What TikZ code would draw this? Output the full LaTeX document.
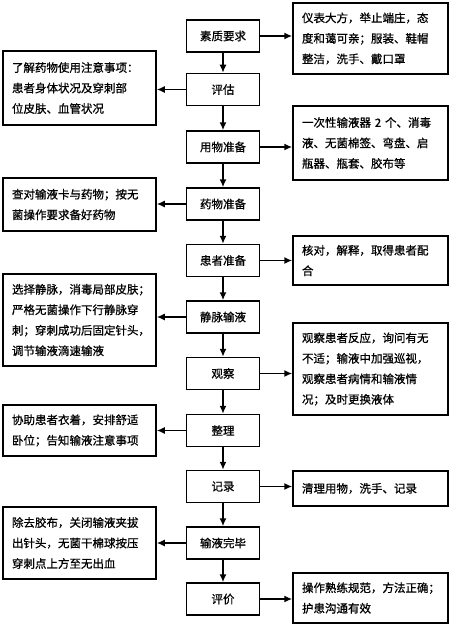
\documentclass[tikz,border=0pt]{standalone}
\usepackage{fontspec}
\setmainfont{Noto Sans CJK SC}[FakeBold=0.8]
\usetikzlibrary{arrows.meta}
\begin{document}
\begin{tikzpicture}[x=1pt,y=-1pt]

      \tikzstyle{StepBlock} = [
      rectangle,
      minimum width=73pt,
      minimum height=32pt,
      inner sep=0pt,
      text centered,
      draw=black,
      line width=1.5pt,
      fill=white,
      font=\fontsize{11.5}{14}\selectfont
      ]

      \tikzstyle{NoteBlock} = [
      rectangle,
      align=left,
      inner xsep=9pt,
      inner ysep=0pt,
      draw=black,
      line width=1.5pt,
      fill=white,
      font=\fontsize{11.5}{20.5}\selectfont
      ]

      \tikzstyle{FlowArrow} = [-{Latex[length=8pt,width=7pt]}, line width=1.5pt]

      \useasboundingbox (0,0) rectangle (474,626);

      \node (SuZhi) [StepBlock] at (223,36) {素质要求};
      \node (PingGu) [StepBlock] at (223,89.5) {评估};
      \node (YongWu) [StepBlock] at (223,147) {用物准备};
      \node (YaoWu) [StepBlock] at (223,204) {药物准备};
      \node (HuanZhe) [StepBlock] at (223,260.5) {患者准备};
      \node (JingMai) [StepBlock] at (223,317) {静脉输液};
      \node (GuanCha) [StepBlock] at (223,373.5) {观察};
      \node (ZhengLi) [StepBlock] at (223,430.5) {整理};
      \node (JiLu) [StepBlock] at (223,486.5) {记录};
      \node (WanBi) [StepBlock] at (223,543) {输液完毕};
      \node (PingJia) [StepBlock] at (223,599) {评价};

      \node (SuZhiNote) [NoteBlock, text width=137pt, minimum height=71pt] at (370.5,38.5) {
        仪表大方，举止端庄，态\\
        度和蔼可亲；服装、鞋帽\\
        整洁，洗手、戴口罩
      };

      \node (PingGuNote) [NoteBlock, text width=135pt, minimum height=74pt] at (79.5,88) {
        了解药物使用注意事项：\\
        患者身体状况及穿刺部\\
        位皮肤、血管状况
      };

      \node (YongWuNote) [NoteBlock, text width=137pt, minimum height=74pt] at (370.5,143) {
        一次性输液器 2 个、消毒\\
        液、无菌棉签、弯盘、启\\
        瓶器、瓶套、胶布等
      };

      \node (YaoWuNote) [NoteBlock, text width=135pt, minimum height=53pt] at (79.5,204.5) {
        查对输液卡与药物；按无\\
        菌操作要求备好药物
      };

      \node (HuanZheNote) [NoteBlock, text width=137pt, minimum height=49pt] at (370.5,260.5) {
        核对，解释，取得患者配\\
        合
      };

      \node (JingMaiNote) [NoteBlock, text width=135pt, minimum height=92pt] at (79.5,320) {
        选择静脉，消毒局部皮肤；\\
        严格无菌操作下行静脉穿\\
        刺；穿刺成功后固定针头，\\
        调节输液滴速输液
      };

      \node (GuanChaNote) [NoteBlock, text width=137pt, minimum height=92pt] at (370.5,369) {
        观察患者反应，询问有无\\
        不适；输液中加强巡视，\\
        观察患者病情和输液情\\
        况；及时更换液体
      };

      \node (ZhengLiNote) [NoteBlock, text width=135pt, minimum height=51pt] at (79.5,430.5) {
        协助患者衣着，安排舒适\\
        卧位；告知输液注意事项
      };

      \node (JiLuNote) [NoteBlock, text width=137pt, minimum height=35pt] at (370.5,488.5) {
        清理用物，洗手、记录
      };

      \node (WanBiNote) [NoteBlock, text width=135pt, minimum height=72pt] at (79.5,543) {
        除去胶布，关闭输液夹拔\\
        出针头，无菌干棉球按压\\
        穿刺点上方至无出血
      };

      \node (PingJiaNote) [NoteBlock, text width=137pt, minimum height=50pt] at (370.5,598) {
        操作熟练规范，方法正确；\\
        护患沟通有效
      };

      \draw [FlowArrow] (SuZhi) -- (PingGu);
      \draw [FlowArrow] (PingGu) -- (YongWu);
      \draw [FlowArrow] (YongWu) -- (YaoWu);
      \draw [FlowArrow] (YaoWu) -- (HuanZhe);
      \draw [FlowArrow] (HuanZhe) -- (JingMai);
      \draw [FlowArrow] (JingMai) -- (GuanCha);
      \draw [FlowArrow] (GuanCha) -- (ZhengLi);
      \draw [FlowArrow] (ZhengLi) -- (JiLu);
      \draw [FlowArrow] (JiLu) -- (WanBi);
      \draw [FlowArrow] (WanBi) -- (PingJia);

      \draw [FlowArrow] (SuZhi.east) -- (SuZhi.east -| SuZhiNote.west);
      \draw [FlowArrow] (PingGu.west) -- (PingGu.west -| PingGuNote.east);
      \draw [FlowArrow] (YongWu.east) -- (YongWu.east -| YongWuNote.west);
      \draw [FlowArrow] (YaoWu.west) -- (YaoWu.west -| YaoWuNote.east);
      \draw [FlowArrow] (HuanZhe.east) -- (HuanZhe.east -| HuanZheNote.west);
      \draw [FlowArrow] (JingMai.west) -- (JingMai.west -| JingMaiNote.east);
      \draw [FlowArrow] (GuanCha.east) -- (GuanCha.east -| GuanChaNote.west);
      \draw [FlowArrow] (ZhengLi.west) -- (ZhengLi.west -| ZhengLiNote.east);
      \draw [FlowArrow] (JiLu.east) -- (JiLu.east -| JiLuNote.west);
      \draw [FlowArrow] (WanBi.west) -- (WanBi.west -| WanBiNote.east);
      \draw [FlowArrow] (PingJia.east) -- (PingJia.east -| PingJiaNote.west);

    \end{tikzpicture}
\end{document}
